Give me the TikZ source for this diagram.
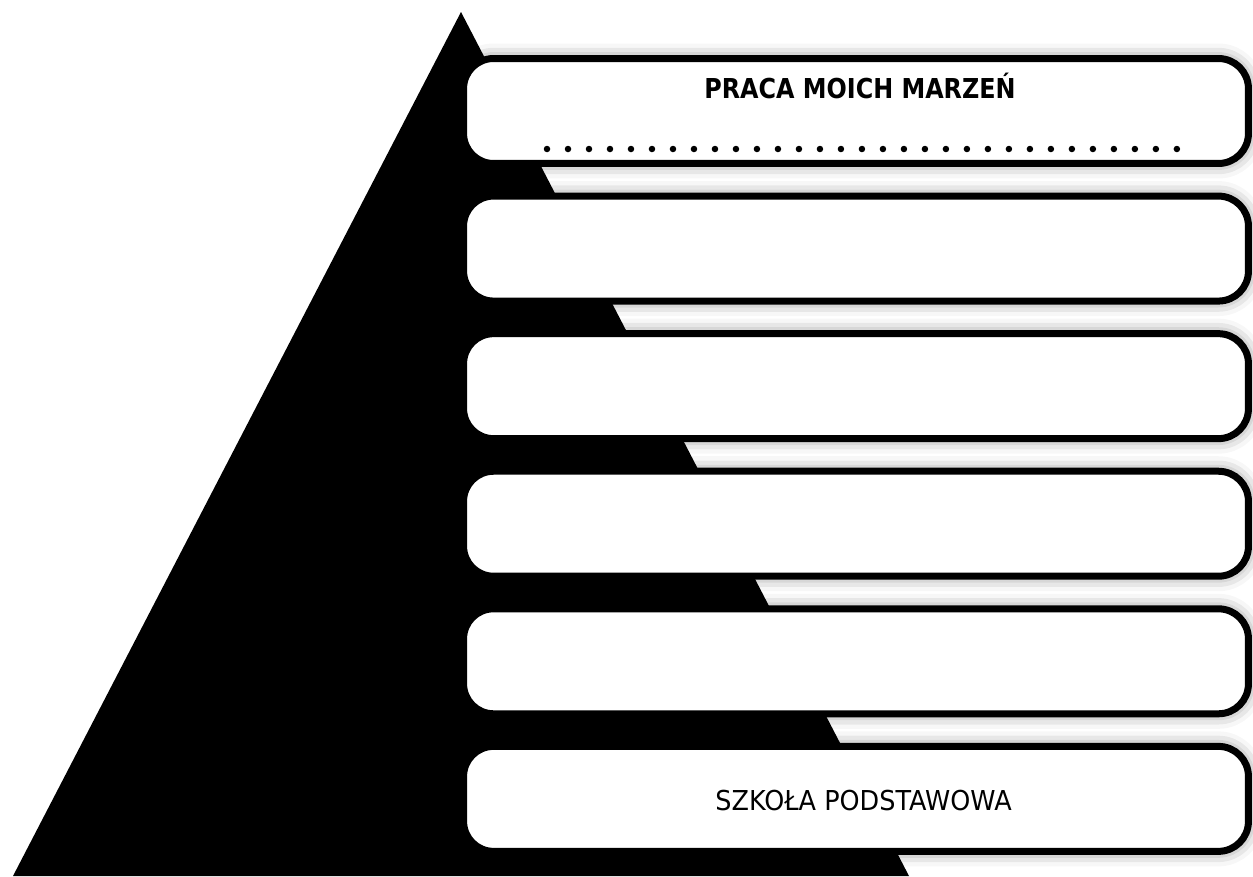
\documentclass[tikz,border=0pt]{standalone}
\usepackage{fontspec}
\setmainfont{DejaVu Sans}[FakeStretch=0.93]
\newfontfamily\titlefont{DejaVu Sans}[FakeStretch=0.87]
\usetikzlibrary{positioning}
\usetikzlibrary{shadows.blur}
\tikzset{
	level/.style={
		rectangle,
		fill=white,
		line width=0.14cm,
		minimum width=15.7cm,
		minimum height=2.1cm,
		rounded corners=0.6cm,
		blur shadow={shadow xshift=0pt, shadow yshift=0pt, shadow blur radius=0.3cm, shadow opacity=50}
	},
	caption/.style={
		anchor=base,
		font=\fontsize{15.6pt}{18pt}\selectfont
	},
	dotrow/.style={
		line width=0.13cm,
		line cap=round,
		dash pattern=on 0pt off 0.42cm
	}
}

\begin{document}
\begin{tikzpicture}[x=0.02cm, y=-0.02cm, node distance=0.512cm]
		\useasboundingbox (0,0) rectangle (1253,876);
		% pyramid
		\fill[black] (461,12) -- (909,876) -- (13,876) -- cycle;
		
		\draw node[draw, level] (L1) at (856,111) {};
		\draw node[draw, level, below=of L1] (L2) {};
		\draw node[draw, level, below=of L2] (L3) {};
		\draw node[draw, level, below=of L3] (L4) {};
		\draw node[draw, level, below=of L4] (L5) {};
		\draw node[draw, level, below=of L5] (L6) {};
		
		\node[caption, font=\fontsize{15.6pt}{18pt}\selectfont\titlefont\bfseries] (Dream) at (860,98) {PRACA MOICH MARZEŃ};
		\draw[dotrow] (547,149) -- (1178,149);
		\node[caption] (School) at (863.5,810) {SZKOŁA PODSTAWOWA};
	\end{tikzpicture}
\end{document}
